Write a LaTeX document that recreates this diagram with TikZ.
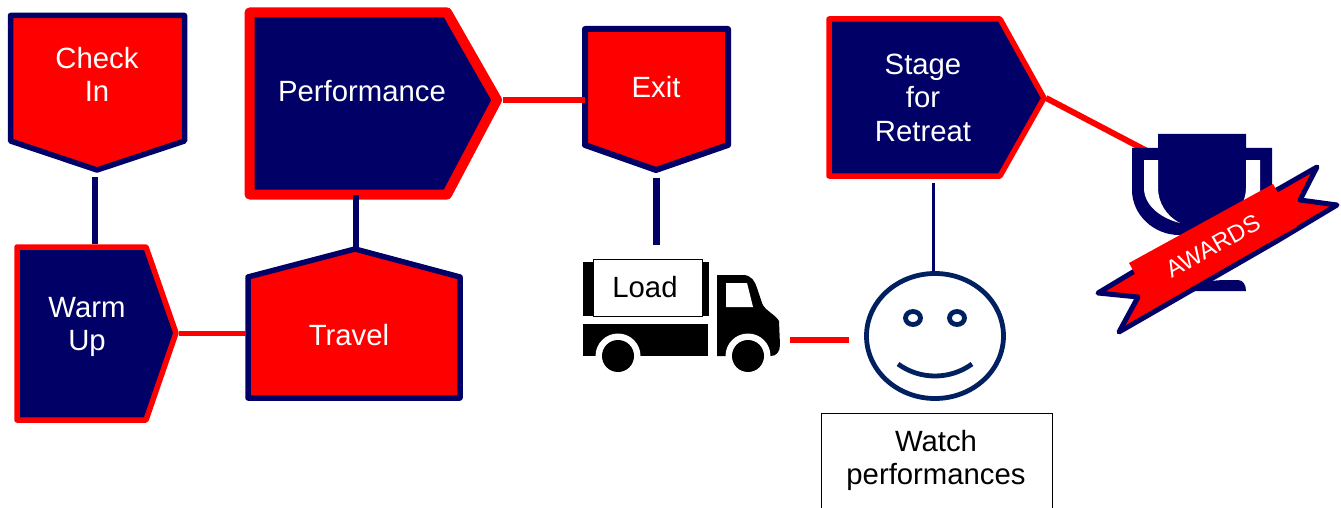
\documentclass[tikz,border=0pt]{standalone}
\usepackage{fontspec}
\setmainfont{Liberation Sans}
\definecolor{navy}{HTML}{000066}
\definecolor{facecol}{HTML}{002060}
\definecolor{redc}{HTML}{FF0000}
\tikzset{
  anchorbox/.style={inner sep=0pt,outer sep=0pt,minimum width=#1},
  wlabel/.style={text=white,align=center,font=\fontsize{29.3}{33.5}\selectfont,inner sep=0pt},
  blabel/.style={text=black,align=center,font=\fontsize{29.3}{33.8}\selectfont,inner sep=0pt},
  redshape/.style={fill=redc,draw=navy,line width=5.5pt,line join=round},
  navyshape/.style={fill=navy,draw=redc,line width=5.5pt,line join=round},
  navylink/.style={draw=navy,line width=6.5pt},
  redlink/.style={draw=redc,line width=5.5pt},
}
\begin{document}
\begin{tikzpicture}[x=1pt,y=-1pt]
\useasboundingbox (0,0) rectangle (1341,508);
% invisible named boxes for the outlines
\node[anchorbox=179pt,minimum height=159pt] (checkin) at (97.5,92.5) {};
\node[anchorbox=165pt,minimum height=178pt] (warmup) at (96.5,333.5) {};
\node[anchorbox=217pt,minimum height=155pt] (travel) at (354,323.5) {};
\node[anchorbox=259pt,minimum height=193pt] (perf) at (373.5,103.5) {};
\node[anchorbox=149pt,minimum height=147pt] (exit) at (656.5,99) {};
\node[anchorbox=221pt,minimum height=162pt] (stage) at (937.5,98) {};
\node[anchorbox=197pt,minimum height=113pt] (truck) at (681.5,316) {};
\node[anchorbox=142pt,minimum height=130pt] (face) at (935,336) {};
\node[anchorbox=140pt,minimum height=160pt] (trophy) at (1202,214) {};
% shapes
\draw[redshape] (10.5,15.5)--(184.5,15.5)--(184.5,141)--(97,170)--(10.5,141)--cycle;
\draw[navyshape] (17,247)--(146,247)--(176,333)--(146,420)--(17,420)--cycle;
\draw[redshape] (248,277)--(355,249)--(460,277)--(460,398)--(248,398)--cycle;
\draw[navyshape,line width=10pt] (249.5,12.5)--(447,12.5)--(497,100)--(447,194.5)--(249.5,194.5)--cycle;
\draw[redshape,line width=6pt] (585,29)--(728,29)--(728,145)--(656,170)--(585,145)--cycle;
\draw[navyshape] (829,19)--(1000,19)--(1044,98)--(1000,176)--(829,176)--cycle;
% connectors
\draw[navylink] ([xshift=-2.5pt,yshift=-5pt]checkin.south) -- ([xshift=-1.5pt,yshift=1pt]warmup.north);
\draw[redlink] (warmup.east) -- (travel.west |- warmup.east);
\draw[navylink] ([xshift=-17.5pt,yshift=5pt]perf.south) -- ([xshift=2pt,yshift=-1pt]travel.north);
\draw[redlink] ([yshift=3.5pt]perf.east) -- ([yshift=3.5pt,xshift=3pt]perf.east -| exit.west);
\draw[navylink,line width=7pt] ([yshift=-5pt]exit.south) -- ([yshift=14.5pt]exit.south |- truck.north);
\draw[navy,line width=3pt] ([xshift=-4.5pt,yshift=-4pt]stage.south) -- ([xshift=-2pt]face.north);
\draw[redc,line width=6pt] ([xshift=-2pt]stage.east) -- ([xshift=15pt,yshift=-17pt]trophy.north west);
\draw[redc,line width=6pt] (790,340) -- (849,340);
% truck
\fill[black] (583,262) rectangle (709,316);
\node[draw=black,line width=0.8pt,fill=white,minimum width=109pt,minimum height=57pt,inner sep=0pt] (loadbox) at (647.5,287.5) {};
\node[blabel] (loadt) at (645,287) {Load};
\fill[black] (583,324) rectangle (708,356);
\fill[black] (717,275)--(743,275) .. controls (751,275) and (755,281) .. (757,288) -- (762,303)
  .. controls (764,310) and (776,315) .. (779,321) -- (780,345) .. controls (780,352) and (776,356) .. (771,356) -- (717,356) --cycle;
\fill[white] (726,283)--(747,283)--(753,307)--(726,307)--cycle;
\fill[white] (618,356) circle[radius=22.5] ;
\fill[white] (748,356) circle[radius=22.5];
\fill[white] (590,356.5) rectangle (650,380);
\fill[white] (720,356.5) rectangle (780,380);
\fill[black] (618,356) circle[radius=16];
\fill[black] (748,356) circle[radius=16];
% face
\begin{scope}[draw=facecol,line width=4.8pt]
\draw (935,336) ellipse[x radius=68.5,y radius=62.5];
\draw (913,318) ellipse[x radius=7.5,y radius=6.5];
\draw (957,318) ellipse[x radius=7.5,y radius=6.5];
\draw (898,364) .. controls (920,380) and (950,380) .. (972,364);
\end{scope}
\node[draw=black,line width=0.8pt,fill=white,minimum width=231pt,minimum height=110pt,inner sep=0pt] (watchbox) at (936.5,468) {};
\node[blabel] (watcht) at (936,460.5) {Watch\\performances};
% trophy
\fill[navy] (1132,148)--(1158,148)--(1158,134)--(1246,134)--(1246,148)--(1272,148)--(1272,190)
  .. controls (1272,215) and (1250,235) .. (1225,235) -- (1179,235)
  .. controls (1154,235) and (1132,215) .. (1132,190) --cycle;
\fill[white] (1144,160)--(1158,160)--(1158,188) .. controls (1158,202) and (1166,216) .. (1180,223)
  .. controls (1160,218) and (1144,205) .. (1144,188) --cycle;
\fill[white] (1260,160)--(1246,160)--(1246,188) .. controls (1246,202) and (1238,212) .. (1228,218) -- (1260,205) --cycle;
\fill[navy] (1200,230) rectangle (1210,285);
\fill[navy] (1193,291) .. controls (1195,282) and (1215,280) .. (1226,280) -- (1238,280)
  .. controls (1243,280) and (1246,285) .. (1246,291) --cycle;
% banner
\draw[navy,fill=redc,line width=5pt,line join=round]
  (1098,293)--(1138,297)--(1119,332)--(1277,241)--(1337,205)--(1300,200)--(1317,167)--(1275,191)--(1133,272)--cycle;
\fill[redc] (1129,263)--(1273,184)--(1297,227)--(1153,306)--cycle;
\node[text=white,font=\fontsize{24}{28}\selectfont,rotate=29,inner sep=0pt] (awards) at (1213,246) {AWARDS};
% labels
\node[wlabel] (checkint) at (97,74.5) {Check\\In};
\node[wlabel] (warmupt) at (87,327) {Warm\\Up};
\node[wlabel] (travelt) at (349,335) {Travel};
\node[wlabel] (perft) at (362,91) {Performance};
\node[wlabel] (exitt) at (656,87) {Exit};
\node[wlabel] (staget) at (923,97.5) {Stage\\for\\Retreat};
\end{tikzpicture}
\end{document}
